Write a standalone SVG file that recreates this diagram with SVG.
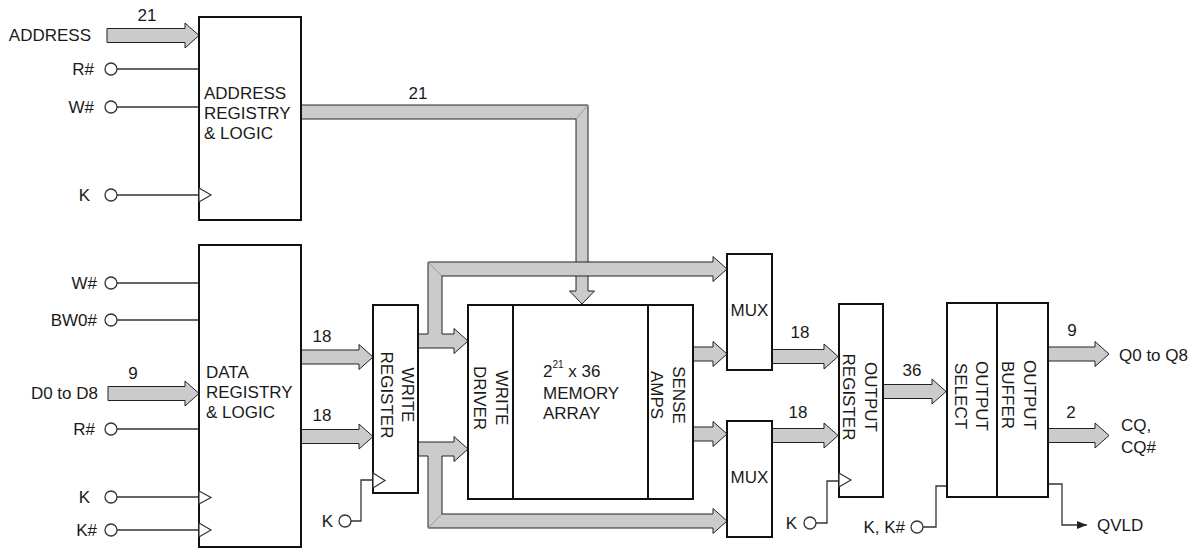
<svg xmlns="http://www.w3.org/2000/svg" width="1199" height="550" viewBox="0 0 1199 550">
<style>
text{font-family:"Liberation Sans",Arial,sans-serif;font-size:17px;fill:#1a1a1a}
.blk{fill:#fff;stroke:#111;stroke-width:2}
.div{stroke:#111;stroke-width:2;fill:none}
.bus{fill:#cbcbcb;stroke:#222;stroke-width:1;stroke-linejoin:miter}
.mit{stroke:#999;stroke-width:1}
.sig{fill:none;stroke:#333;stroke-width:1.3}
.pin{fill:#fff;stroke:#333;stroke-width:1.3}
.clk{fill:#fff;stroke:#333;stroke-width:1.2}
.e{text-anchor:end}
.m{text-anchor:middle}
</style>
<defs>
<marker id="ah" viewBox="0 0 10 8" refX="10" refY="4" markerWidth="10" markerHeight="8" markerUnits="userSpaceOnUse" orient="auto"><path d="M0,0L10,4L0,8z" fill="#222"/></marker>
</defs>

<g id="connectors">
<polygon class="bus" points="107,28.5 185,28.5 185,23 199,35.5 185,48 185,42.5 107,42.5"/>
<polygon class="bus" points="108,386.5 185,386.5 185,381 199,393.5 185,406 185,400.5 108,400.5"/>
<polygon class="bus" points="301,350 359,350 359,344.5 373,357 359,369.5 359,364 301,364"/>
<polygon class="bus" points="301,429.5 359,429.5 359,424 373,436.5 359,449 359,443.5 301,443.5"/>
<polygon class="bus" points="693,347 713,347 713,341.5 727,354 713,366.5 713,361 693,361"/>
<polygon class="bus" points="693,427 713,427 713,421.5 727,434 713,446.5 713,441 693,441"/>
<polygon class="bus" points="772,349.5 824,349.5 824,344 838,356.5 824,369 824,363.5 772,363.5"/>
<polygon class="bus" points="772,428.5 824,428.5 824,423 838,435.5 824,448 824,442.5 772,442.5"/>
<polygon class="bus" points="883,384.5 932,384.5 932,379 946,391.5 932,404 932,398.5 883,398.5"/>
<polygon class="bus" points="1048,347 1095,347 1095,341.5 1109,354 1095,366.5 1095,361 1048,361"/>
<polygon class="bus" points="1048,428.5 1095,428.5 1095,423 1109,435.5 1095,448 1095,442.5 1048,442.5"/>
<polygon class="bus" points="301,105 588,105 588,291 594.5,291 582,304 569.5,291 576,291 576,119 301,119"/>
<line class="mit" x1="576" y1="119" x2="588" y2="105"/>
<polygon class="bus" points="418,334 428,334 428,262 713,262 713,256.5 727,269 713,281.5 713,276 442,276 442,334 454,334 454,328.5 468,341 454,353.5 454,348 418,348"/>
<line class="mit" x1="428" y1="262" x2="442" y2="276"/>
<polygon class="bus" points="418,442 454,442 454,436.5 468,449 454,461.5 454,456 442,456 442,514 713,514 713,508.5 727,521 713,533.5 713,528 428,528 428,456 418,456"/>
<line class="mit" x1="428" y1="528" x2="442" y2="514"/>

<path class="sig" d="M117,69H199M117,107H199M117,195H199"/>
<path class="sig" d="M117,283H199M117,320H199M117,429H199M117,497H199M117,530H199"/>
<path class="sig" d="M351,521H361V480H373"/>
<path class="sig" d="M816,523H827V481H839"/>
<path class="sig" d="M923,527H936V486H947"/>
<path class="sig" d="M1048,484H1062V525H1087" marker-end="url(#ah)"/>

<circle class="pin" cx="111" cy="69" r="6"/>
<circle class="pin" cx="111" cy="107" r="6"/>
<circle class="pin" cx="111" cy="195" r="6"/>
<circle class="pin" cx="111" cy="283" r="6"/>
<circle class="pin" cx="111" cy="320" r="6"/>
<circle class="pin" cx="111" cy="429" r="6"/>
<circle class="pin" cx="111" cy="497" r="6"/>
<circle class="pin" cx="111" cy="530" r="6"/>
<circle class="pin" cx="345" cy="521" r="6"/>
<circle class="pin" cx="810" cy="523" r="6"/>
<circle class="pin" cx="917" cy="527" r="6"/>

<text x="147" y="21" class="m">21</text>
<text x="418" y="99" class="m">21</text>
<text x="133" y="379" class="m">9</text>
<text x="322" y="342" class="m">18</text>
<text x="322" y="421" class="m">18</text>
<text x="800" y="338" class="m">18</text>
<text x="798" y="418" class="m">18</text>
<text x="912" y="376" class="m">36</text>
<text x="1072" y="336" class="m">9</text>
<text x="1071" y="418" class="m">2</text>
</g>

<g id="inputs">
<text x="91" y="41" class="e">ADDRESS</text>
<text x="94" y="75" class="e">R#</text>
<text x="94" y="113" class="e">W#</text>
<text x="90" y="201" class="e">K</text>
<text x="97" y="289" class="e">W#</text>
<text x="97" y="326" class="e">BW0#</text>
<text x="98" y="399" class="e">D0 to D8</text>
<text x="95" y="435" class="e">R#</text>
<text x="90" y="503" class="e">K</text>
<text x="97" y="536" class="e">K#</text>
<text x="333" y="527" class="e">K</text>
<text x="797" y="529" class="e">K</text>
<text x="905" y="533" class="e">K, K#</text>
</g>

<g id="address-registry">
<rect class="blk" x="199" y="17" width="102" height="203"/>
<polygon class="clk" points="199,188 211,195 199,202"/>
<text x="204" y="99">ADDRESS</text>
<text x="204" y="119">REGISTRY</text>
<text x="204" y="139">&amp; LOGIC</text>
</g>

<g id="data-registry">
<rect class="blk" x="199" y="245" width="102" height="302"/>
<polygon class="clk" points="199,491 211,497.5 199,504"/>
<polygon class="clk" points="199,523 211,530 199,537"/>
<text x="206" y="378">DATA</text>
<text x="206" y="398">REGISTRY</text>
<text x="206" y="418">&amp; LOGIC</text>
</g>

<g id="write-register">
<rect class="blk" x="373" y="305" width="45" height="188"/>
<polygon class="clk" points="373,473 385,480.5 373,488"/>
<text class="m" transform="translate(408,395) rotate(90)" y="6">WRITE</text>
<text class="m" transform="translate(387,395) rotate(90)" y="6">REGISTER</text>
</g>

<g id="memory-array">
<rect class="blk" x="468" y="305" width="225" height="194"/>
<line class="div" x1="513" y1="305" x2="513" y2="499"/>
<line class="div" x1="648" y1="305" x2="648" y2="499"/>
<text class="m" transform="translate(502,398) rotate(90)" y="6">WRITE</text>
<text class="m" transform="translate(480,398) rotate(90)" y="6">DRIVER</text>
<text x="543" y="377">2<tspan font-size="10" dy="-9">21</tspan><tspan dy="9"> x 36</tspan></text>
<text x="543" y="399">MEMORY</text>
<text x="543" y="419">ARRAY</text>
<text class="m" transform="translate(679,395) rotate(90)" y="6">SENSE</text>
<text class="m" transform="translate(657,395) rotate(90)" y="6">AMPS</text>
</g>

<g id="mux-upper">
<rect class="blk" x="727" y="254" width="45" height="116"/>
<text x="749.5" y="316" class="m">MUX</text>
</g>

<g id="mux-lower">
<rect class="blk" x="727" y="421" width="45" height="116"/>
<text x="749.5" y="483" class="m">MUX</text>
</g>

<g id="output-register">
<rect class="blk" x="839" y="304" width="44" height="193"/>
<polygon class="clk" points="839,473 851,480 839,487"/>
<text class="m" transform="translate(871,397) rotate(90)" y="6">OUTPUT</text>
<text class="m" transform="translate(849,397) rotate(90)" y="6">REGISTER</text>
</g>

<g id="output-select-buffer">
<rect class="blk" x="947" y="303" width="101" height="194"/>
<line class="div" x1="997" y1="303" x2="997" y2="497"/>
<text class="m" transform="translate(982,396) rotate(90)" y="6">OUTPUT</text>
<text class="m" transform="translate(961,396) rotate(90)" y="6">SELECT</text>
<text class="m" transform="translate(1030,395) rotate(90)" y="6">OUTPUT</text>
<text class="m" transform="translate(1008,395) rotate(90)" y="6">BUFFER</text>
</g>

<g id="outputs">
<text x="1119" y="361">Q0 to Q8</text>
<text x="1121" y="431">CQ,</text>
<text x="1121" y="453">CQ#</text>
<text x="1097" y="531">QVLD</text>
</g>
</svg>
